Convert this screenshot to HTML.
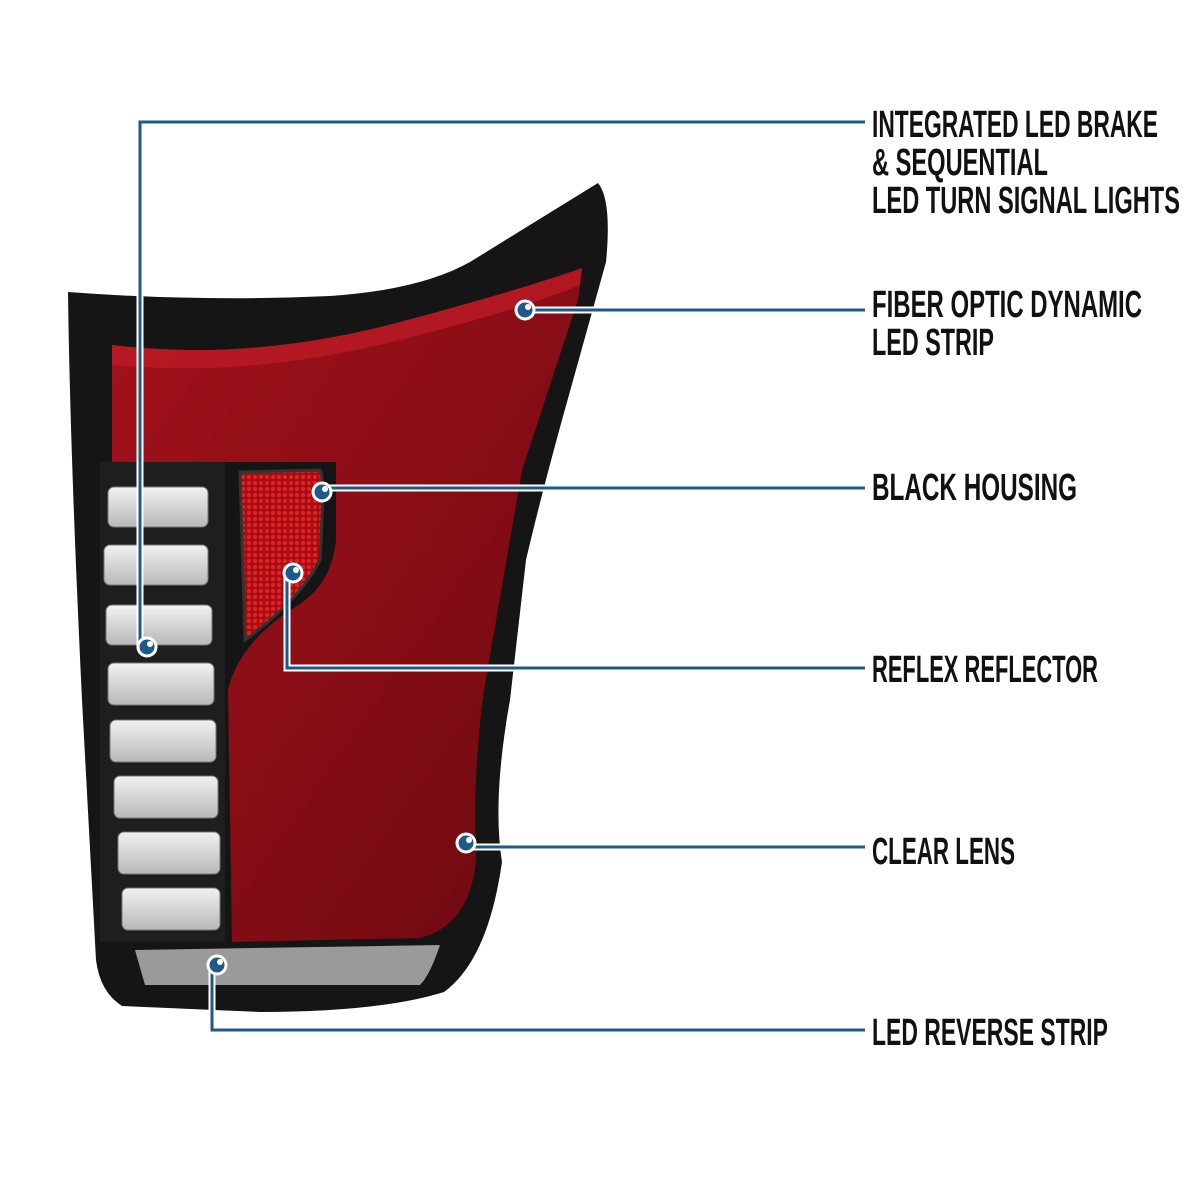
<!DOCTYPE html><html><head><style>body{margin:0;background:#fff}svg{display:block}</style></head><body>
<svg width="1200" height="1200" viewBox="0 0 1200 1200" xmlns="http://www.w3.org/2000/svg">
<defs>
<linearGradient id="red" x1="0" y1="0" x2="1" y2="1"><stop offset="0" stop-color="#a3121c"/><stop offset="0.5" stop-color="#8a0d15"/><stop offset="1" stop-color="#6a0a10"/></linearGradient>
<linearGradient id="led" x1="0" y1="0" x2="0" y2="1"><stop offset="0" stop-color="#f2f2f2"/><stop offset="1" stop-color="#b8b8b8"/></linearGradient>
<pattern id="dots" width="6" height="6" patternUnits="userSpaceOnUse"><rect width="6" height="6" fill="#a80d12"/><circle cx="3" cy="3" r="2" fill="#e0252a"/></pattern>
</defs>
<path d="M68,292 Q200,302 330,296 Q420,290 470,262 L598,183 Q612,200 606,262 L562,420 Q540,500 526,560 L510,700 Q492,800 502,862 Q488,960 444,992 Q380,1012 260,1012 L122,1006 Q100,992 96,960 L82,700 Q70,450 68,292 Z" fill="#151515"/>
<path d="M112,345 Q250,362 400,322 Q520,290 582,268 L578,300 Q545,400 522,470 L484,690 Q472,780 476,860 Q470,925 420,938 L232,942 L228,690 Q240,640 300,604 Q332,582 336,540 L336,462 L112,462 Z" fill="url(#red)"/>
<path d="M112,345 Q250,362 400,322 Q520,290 582,268 L580,285 Q520,310 400,340 Q250,378 112,365 Z" fill="#c01c26" opacity="0.7"/>
<rect x="100" y="462" width="125" height="480" fill="#1e1e1e"/>
<g fill="url(#led)" stroke="#777" stroke-width="1">
<rect x="108" y="487" width="100" height="40" rx="6"/><rect x="104" y="545" width="104" height="40" rx="6"/>
<rect x="106" y="605" width="106" height="40" rx="6"/><rect x="108" y="663" width="106" height="42" rx="6"/>
<rect x="110" y="720" width="106" height="42" rx="6"/><rect x="114" y="776" width="104" height="42" rx="6"/>
<rect x="118" y="832" width="102" height="42" rx="6"/><rect x="122" y="888" width="98" height="42" rx="6"/>
</g>
<path d="M240,472 L320,470 Q325,472 320,560 Q300,600 245,640 Z" fill="url(#dots)" stroke="#333" stroke-width="3"/>
<path d="M135,950 L440,945 Q430,975 420,985 L145,985 Z" fill="#9a9a9a"/>
<g fill="none" stroke-linejoin="miter">
<g stroke="#fff" stroke-width="7">
<path d="M140,647 V122 H865"/><path d="M525,310 H865"/><path d="M322,488 H865"/>
<path d="M287,573 V668 H865"/><path d="M466,847 H865"/><path d="M212,965 V1030 H865"/>
</g>
<g stroke="#1d5a8a" stroke-width="3">
<path d="M140,647 V122 H865"/><path d="M525,310 H865"/><path d="M322,488 H865"/>
<path d="M287,573 V668 H865"/><path d="M466,847 H865"/><path d="M212,965 V1030 H865"/>
</g>
</g>
<g fill="#1d5a8a" stroke="#fff" stroke-width="3">
<circle cx="147" cy="647" r="9"/><circle cx="525" cy="310" r="9"/><circle cx="322" cy="492" r="9"/>
<circle cx="293" cy="573" r="9"/><circle cx="466" cy="843" r="9"/><circle cx="217" cy="965" r="9"/>
</g>
<g fill="#fff">
<circle cx="150" cy="644" r="3"/><circle cx="528" cy="307" r="3"/><circle cx="325" cy="489" r="3"/>
<circle cx="296" cy="570" r="3"/><circle cx="469" cy="840" r="3"/><circle cx="220" cy="962" r="3"/>
</g>
<g font-family="'Liberation Sans Narrow','Liberation Sans',sans-serif" font-size="38" font-weight="bold" fill="#111">
<text x="872" y="137" textLength="286" lengthAdjust="spacingAndGlyphs">INTEGRATED LED BRAKE</text>
<text x="872" y="175" textLength="176" lengthAdjust="spacingAndGlyphs">&amp; SEQUENTIAL</text>
<text x="872" y="213" textLength="308" lengthAdjust="spacingAndGlyphs">LED TURN SIGNAL LIGHTS</text>
<text x="872" y="317" textLength="270" lengthAdjust="spacingAndGlyphs">FIBER OPTIC DYNAMIC</text>
<text x="872" y="355" textLength="122" lengthAdjust="spacingAndGlyphs">LED STRIP</text>
<text x="872" y="500" textLength="205" lengthAdjust="spacingAndGlyphs">BLACK HOUSING</text>
<text x="872" y="682" textLength="226" lengthAdjust="spacingAndGlyphs">REFLEX REFLECTOR</text>
<text x="872" y="864" textLength="143" lengthAdjust="spacingAndGlyphs">CLEAR LENS</text>
<text x="872" y="1045" textLength="236" lengthAdjust="spacingAndGlyphs">LED REVERSE STRIP</text>
</g>
</svg>
</body></html>
